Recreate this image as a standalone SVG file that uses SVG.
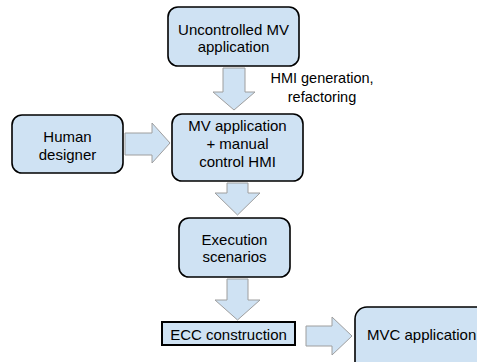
<svg xmlns="http://www.w3.org/2000/svg" width="477" height="362" viewBox="0 0 477 362">
<style>
.box{fill:#cfe2f3;stroke:#000;stroke-width:1.6}
.arr{fill:#cfe2f3;stroke:#9e9e9e;stroke-width:1}
text{font-family:"Liberation Sans",Arial,sans-serif;font-size:15px;fill:#000;text-anchor:middle}
</style>
<rect width="477" height="362" fill="#fff"/>
<g id="connectors">
<polygon class="arr" points="223,68 245,68 245,92 255,92 234,110 213,92 223,92"/>
<polygon class="arr" points="125,133 152,133 152,123 170,143 152,163 152,155 125,155"/>
<polygon class="arr" points="227,183 248,183 248,193 260,193 237.5,215 215,193 227,193"/>
<polygon class="arr" points="227,279 248,279 248,300 260,300 237.5,320 215,300 227,300"/>
<polygon class="arr" points="306,326 332,326 332,317 352,336 332,355 332,346 306,346"/>
<text x="322" y="83" style="font-size:14.5px">HMI generation,</text>
<text x="322" y="102" style="font-size:14.5px">refactoring</text>
</g>
<g id="uncontrolled">
<rect class="box" x="168" y="7" width="131" height="59" rx="10"/>
<text x="233.5" y="35">Uncontrolled MV</text>
<text x="233.5" y="52">application</text>
</g>
<g id="human">
<rect class="box" x="12" y="115" width="111" height="58" rx="10"/>
<text x="67.5" y="142">Human</text>
<text x="67.5" y="160">designer</text>
</g>
<g id="mvapp">
<rect class="box" x="172" y="114" width="131" height="67" rx="10"/>
<text x="237.5" y="131">MV application</text>
<text x="237.5" y="149">+ manual</text>
<text x="237.5" y="167">control HMI</text>
</g>
<g id="scenarios">
<rect class="box" x="179" y="218" width="111" height="59" rx="10"/>
<text x="234.5" y="245">Execution</text>
<text x="234.5" y="262">scenarios</text>
</g>
<g id="ecc">
<rect class="box" x="162" y="322" width="133" height="23" style="stroke-width:2"/>
<text x="228.5" y="339.5">ECC construction</text>
</g>
<g id="mvc">
<rect class="box" x="355" y="307" width="135" height="70" rx="12"/>
<text x="367" y="340" style="text-anchor:start">MVC application</text>
</g>
</svg>
